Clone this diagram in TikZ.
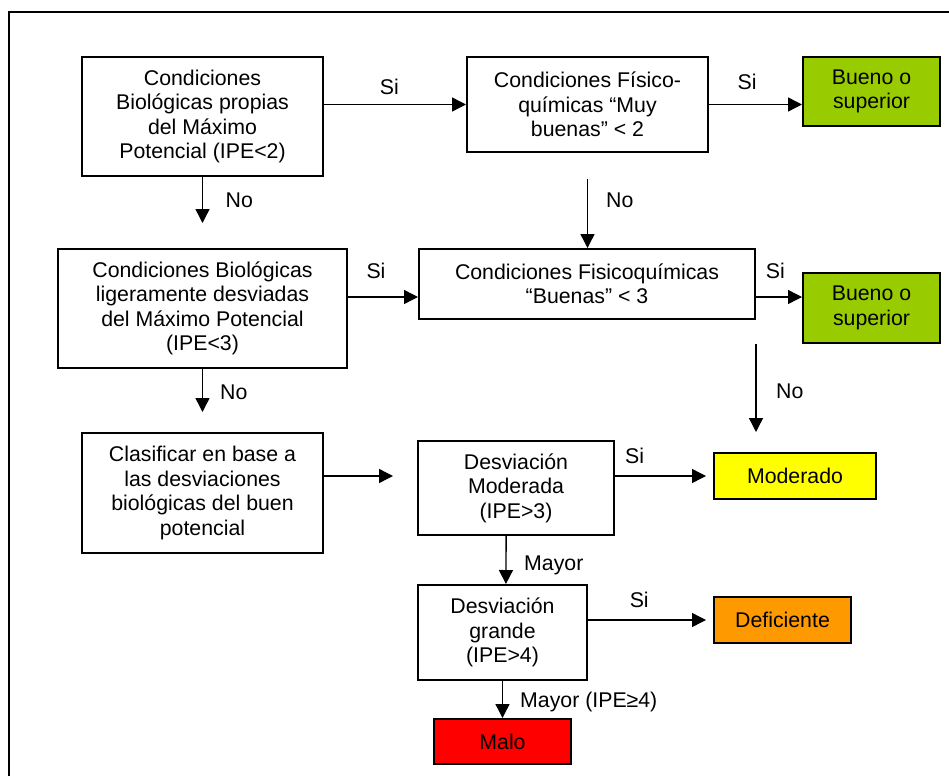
\documentclass[tikz,border=0pt]{standalone}
\usepackage{fontspec}
\setmainfont{Liberation Sans}
\usetikzlibrary{arrows.meta,calc}
\definecolor{verde}{HTML}{99CC00}
\definecolor{amarillo}{HTML}{FFFF00}
\definecolor{naranja}{HTML}{FF9900}
\definecolor{rojo}{HTML}{FF0000}
\tikzset{
  caja/.style={draw,line width=2pt,inner sep=0pt,align=center},
  flecha/.style={line width=1.4pt,-{Triangle[length=14pt,width=14pt]}},
  etq/.style={inner sep=0pt},
  marco/.style={line width=2pt},
}
\begin{document}
\begin{tikzpicture}[x=1pt,y=-1pt,font=\fontsize{21.3}{24.5}\selectfont]
  \useasboundingbox (0,0) rectangle (949,776);
  \draw[marco] (9,776) -- (9,12) -- (949,12);
  \node[caja,minimum width=241pt,minimum height=119pt] (bio1) at (202.5,116.5)
    {Condiciones\\Biológicas propias\\del Máximo\\Potencial (IPE<2)};
  \node[caja,minimum width=241pt,minimum height=95pt] (fq1) at (587.5,104.5)
    {Condiciones Físico-\\químicas “Muy\\buenas” < 2};
  \node[caja,fill=verde,minimum width=137pt,minimum height=69pt] (bueno1) at (871.5,91.5)
    {Bueno o\\superior};
  \node[caja,minimum width=289pt,minimum height=119pt] (bio2) at (202.5,308.5)
    {Condiciones Biológicas\\ligeramente desviadas\\del Máximo Potencial\\(IPE<3)};
  \node[caja,minimum width=336pt,minimum height=70pt] (fq2) at (587,284)
    {Condiciones Fisicoquímicas\\“Buenas” < 3};
  \node[caja,fill=verde,minimum width=137pt,minimum height=70pt] (bueno2) at (871.5,308)
    {Bueno o\\superior};
  \node[caja,minimum width=241pt,minimum height=120pt] (clas) at (202.5,493)
    {Clasificar en base a\\las desviaciones\\biológicas del buen\\potencial};
  \node[caja,minimum width=196pt,minimum height=94pt] (mod) at (516,488)
    {Desviación\\Moderada\\(IPE>3)};
  \node[caja,fill=amarillo,minimum width=162pt,minimum height=46pt] (moderado) at (795,476)
    {Moderado};
  \node[caja,minimum width=169pt,minimum height=95pt] (gra) at (502.5,632.5)
    {Desviación\\grande\\(IPE>4)};
  \node[caja,fill=naranja,minimum width=137pt,minimum height=46pt] (deficiente) at (782.5,620)
    {Deficiente};
  \node[caja,fill=rojo,minimum width=137pt,minimum height=45pt] (malo) at (502.5,741.5)
    {Malo};
  \coordinate (nivel) at (0,297);

  \draw[flecha] (bio1.east |- fq1.west) -- node[etq,pos=.46,above=9.5pt] {Si} (fq1.west);
  \draw[flecha] (fq1.east) -- node[etq,pos=.41,above=14.5pt] {Si} (fq1.east -| bueno1.west);
  \draw[flecha,shorten >=25pt] (bio1.south) -- node[etq,pos=.33,right=22.5pt] {No} (bio2.north);
  \draw[flecha,shorten <=26pt] (fq1.south) -- node[etq,pos=.5,right=18pt] {No} (fq1.south |- fq2.north);
  \draw[flecha] (bio2.east |- nivel) -- node[etq,pos=.4,above=17.5pt] {Si} (fq2.west |- nivel);
  \draw[flecha] (fq2.east |- nivel) -- node[etq,pos=.42,above=17.5pt] {Si} (bueno2.west |- nivel);
  \draw[flecha,shorten >=20pt] (bio2.south) -- node[etq,pos=.37,right=17pt] {No} (clas.north);
  \draw[flecha,shorten <=24pt,shorten >=20pt] (fq2.south east) -- node[etq,pos=.54,right=19.5pt] {No} (fq2.south east |- moderado.north);
  \draw[flecha,shorten >=24pt] (clas.east |- moderado.west) -- (mod.west |- moderado.west);
  \draw[flecha,shorten >=7pt] (mod.east |- moderado.west) -- node[etq,pos=.2,above=11.5pt] {Si} (moderado.west);
  \draw[flecha] ($(mod.south west)!.45!(mod.south east)$) -- node[etq,pos=.62,right=17.5pt] {Mayor} ($(gra.north west)!.52!(gra.north east)$);
  \draw[flecha,shorten >=7pt] (gra.east |- deficiente.west) -- node[etq,pos=.41,above=11.5pt] {Si} (deficiente.west);
  \draw[flecha] (gra.south) -- node[etq,pos=.56,right=17pt] {Mayor (IPE≥4)} (malo.north);
\end{tikzpicture}
\end{document}
